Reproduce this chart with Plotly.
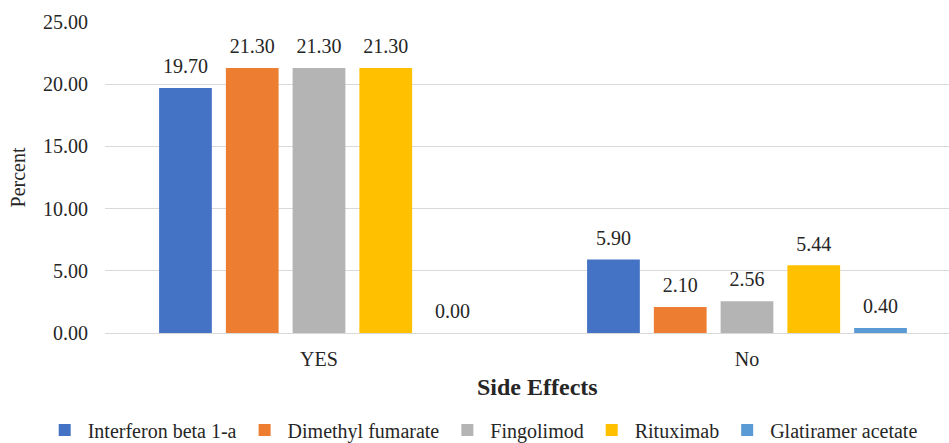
import plotly.graph_objects as go

categories = ["YES", "No"]
drugs = ["Interferon beta 1-a", "Dimethyl fumarate", "Fingolimod", "Rituximab", "Glatiramer acetate"]
values = {
    "Interferon beta 1-a": [19.70, 5.90],
    "Dimethyl fumarate": [21.30, 2.10],
    "Fingolimod": [21.30, 2.56],
    "Rituximab": [21.30, 5.44],
    "Glatiramer acetate": [0.00, 0.40],
}
colors = ["#4472C4", "#ED7D31", "#B4B4B4", "#FFC000", "#5B9BD5"]
y_ticks = [0, 5, 10, 15, 20, 25]

FONT = "Liberation Serif"
TXT = "#262626"
FS = 20

fig = go.Figure()
for name, col in zip(drugs, colors):
    fig.add_trace(go.Bar(
        name=name,
        x=categories,
        y=values[name],
        offsetgroup=name,
        marker=dict(color=col, line=dict(width=0)),
    ))
# value labels, aligned with the bars via offset groups
for name in drugs:
    fig.add_trace(go.Scatter(
        x=categories,
        y=values[name],
        offsetgroup=name,
        mode="markers+text",
        marker=dict(size=14, color="rgba(0,0,0,0)"),
        text=[f"{v:.2f}" for v in values[name]],
        textposition="top center",
        textfont=dict(family=FONT, size=FS, color=TXT),
        cliponaxis=False,
        showlegend=False,
        hoverinfo="skip",
    ))

fig.update_layout(
    width=949, height=443,
    margin=dict(l=105, r=0, t=22, b=110, autoexpand=False),
    paper_bgcolor="white", plot_bgcolor="white",
    barmode="group", bargap=0.22, bargroupgap=0.21,
    scattermode="group",
    font=dict(family=FONT, size=FS, color=TXT),
    showlegend=True,
    legend=dict(orientation="h", x=-0.075, xanchor="left",
                y=-0.312, yanchor="middle",
                font=dict(family=FONT, size=FS, color=TXT), itemwidth=36,
                traceorder="normal"),
    annotations=[dict(
        text="<b>Side Effects</b>", xref="paper", yref="paper",
        x=0.512, y=-0.175, xanchor="center", yanchor="middle", showarrow=False,
        font=dict(family=FONT, size=24, color=TXT),
    )],
)
fig.update_xaxes(
    type="category", range=[-0.5, 1.472],
    showline=False, showgrid=False, ticks="", ticklabelstandoff=12,
    tickfont=dict(family=FONT, size=FS, color=TXT),
)
fig.update_yaxes(
    range=[0, 25], tickvals=y_ticks, tickformat=".2f",
    showgrid=True, gridcolor="#D9D9D9", gridwidth=1,
    zeroline=True, zerolinecolor="#D9D9D9", zerolinewidth=1,
    showline=False, ticks="", ticklabelstandoff=16,
    tickfont=dict(family=FONT, size=FS, color=TXT),
    title=dict(text="Percent", font=dict(family=FONT, size=FS, color=TXT), standoff=12),
)

fig.write_html("out.html")
